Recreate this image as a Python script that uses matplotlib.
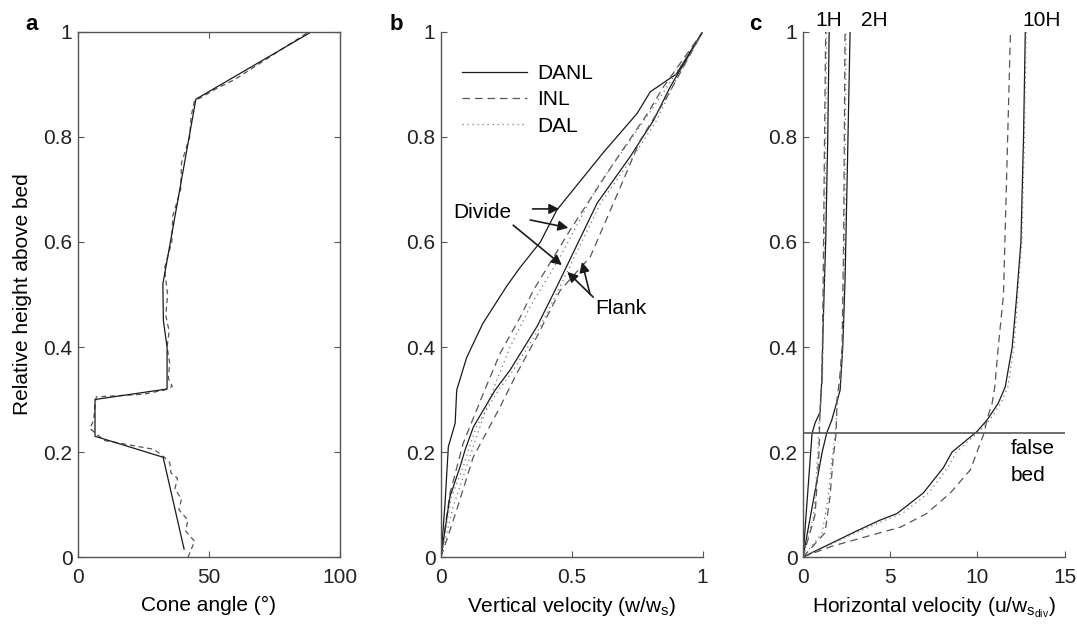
import numpy as np
import matplotlib.pyplot as plt

plt.rcParams['font.family'] = ['Liberation Sans', 'DejaVu Sans']
plt.rcParams['mathtext.fontset'] = 'custom'
plt.rcParams['mathtext.rm'] = 'Liberation Sans'
plt.rcParams['mathtext.it'] = 'Liberation Sans'

# ---- panel a: cone angle (deg) vs relative height
a_solid_x = [40.5, 32.5, 6.5, 6.5, 34, 34, 32.6, 32.4, 45, 89]
a_solid_y = [0.015, 0.19, 0.23, 0.30, 0.32, 0.40, 0.45, 0.52, 0.872, 1.0]
a_dash_x = [42, 44.5, 41, 42, 38.5, 39.5, 37, 38, 35.5, 35, 33, 29, 18, 10, 4.5, 5, 6,
            6.5, 7, 25, 33, 36, 34.5, 35, 34, 34.8, 33.5, 34.2, 33, 35.8, 36.2, 39.2,
            39.5, 42.6, 43.2, 44.5, 47, 52, 60, 88]
a_dash_y = [0.0, 0.03, 0.05, 0.07, 0.09, 0.11, 0.13, 0.15, 0.16, 0.18, 0.19, 0.205,
            0.215, 0.222, 0.245, 0.25, 0.26, 0.29, 0.305, 0.31, 0.318, 0.325, 0.34,
            0.37, 0.40, 0.43, 0.46, 0.5, 0.55, 0.6, 0.65, 0.7, 0.75, 0.8, 0.84, 0.87,
            0.875, 0.89, 0.91, 1.0]

# ---- panel b: vertical velocity (w/ws)
b_danl_div_x = [0, 0.015, 0.028, 0.054, 0.06, 0.098, 0.16, 0.25, 0.30, 0.38, 0.443, 0.62, 0.75, 0.80, 0.90, 1.0]
b_danl_div_y = [0, 0.1, 0.21, 0.255, 0.318, 0.38, 0.445, 0.515, 0.55, 0.6, 0.661, 0.77, 0.845, 0.886, 0.92, 1.0]
b_danl_fl_x = [0, 0.034, 0.073, 0.092, 0.124, 0.207, 0.264, 0.367, 0.443, 0.597, 0.724, 0.813, 0.877, 1.0]
b_danl_fl_y = [0, 0.115, 0.172, 0.204, 0.248, 0.318, 0.356, 0.439, 0.515, 0.674, 0.763, 0.832, 0.896, 1.0]
b_inl_div_x = [0, 0.034, 0.085, 0.162, 0.226, 0.303, 0.353, 0.494, 0.66, 0.79, 0.85, 1.0]
b_inl_div_y = [0, 0.121, 0.217, 0.312, 0.388, 0.457, 0.508, 0.623, 0.75, 0.845, 0.895, 1.0]
b_inl_fl_x = [0, 0.06, 0.123, 0.226, 0.29, 0.367, 0.456, 0.571, 0.686, 0.762, 0.865, 1.0]
b_inl_fl_y = [0, 0.09, 0.19, 0.286, 0.35, 0.42, 0.508, 0.572, 0.705, 0.794, 0.877, 1.0]
b_dal_div_x = [0, 0.046, 0.123, 0.188, 0.264, 0.341, 0.456, 0.597, 0.724, 0.84, 1.0]
b_dal_div_y = [0, 0.095, 0.21, 0.305, 0.40, 0.477, 0.572, 0.705, 0.794, 0.877, 1.0]
b_dal_fl_x = [0, 0.04, 0.085, 0.105, 0.135, 0.22, 0.277, 0.38, 0.455, 0.61, 0.735, 0.825, 0.885, 1.0]
b_dal_fl_y = [0, 0.115, 0.172, 0.204, 0.248, 0.318, 0.356, 0.439, 0.515, 0.674, 0.763, 0.832, 0.896, 1.0]

# ---- panel c: horizontal velocity (u/ws_div)
c1_solid_x = [0, 0.52, 0.7, 0.98, 1.08, 1.17, 1.3, 1.42, 1.5]
c1_solid_y = [0, 0.236, 0.256, 0.276, 0.34, 0.46, 0.6, 0.8, 1.0]
c1_dash_x = [0, 0.69, 0.92, 0.95, 1.0, 1.09, 1.15, 1.22, 1.3]
c1_dash_y = [0, 0.08, 0.2, 0.25, 0.29, 0.34, 0.5, 0.75, 1.0]
c1_dot_x = [0, 0.62, 0.85, 0.9, 1.0, 1.12, 1.2, 1.28, 1.36]
c1_dot_y = [0, 0.08, 0.2, 0.25, 0.29, 0.34, 0.5, 0.75, 1.0]
c2_solid_x = [0, 1.1, 1.36, 1.65, 2.13, 2.28, 2.41, 2.55, 2.7]
c2_solid_y = [0, 0.2, 0.236, 0.261, 0.318, 0.4, 0.527, 0.75, 1.0]
c2_dash_x = [0, 1.26, 1.55, 1.72, 1.9, 1.95, 2.1, 2.24, 2.33, 2.41]
c2_dash_y = [0, 0.046, 0.115, 0.185, 0.236, 0.3, 0.34, 0.4, 0.6, 1.0]
c2_dot_x = [0, 1.1, 1.45, 1.65, 1.85, 2.0, 2.15, 2.28, 2.38, 2.47]
c2_dot_y = [0, 0.046, 0.115, 0.185, 0.236, 0.3, 0.34, 0.4, 0.6, 1.0]
c10_solid_x = [0, 3.1, 4.4, 5.4, 6.9, 8.05, 8.55, 9.98, 10.56, 11.2, 11.6, 12.0, 12.24, 12.5, 12.65, 12.75]
c10_solid_y = [0, 0.05, 0.07, 0.083, 0.122, 0.17, 0.2, 0.239, 0.261, 0.293, 0.324, 0.4, 0.49, 0.6, 0.8, 1.0]
c10_dash_x = [0, 1.6, 4.4, 5.6, 7.1, 8.45, 9.6, 10.17, 10.4, 10.56, 10.85, 11.0, 11.2, 11.5, 11.7, 11.9]
c10_dash_y = [0, 0.02, 0.046, 0.057, 0.083, 0.122, 0.166, 0.217, 0.237, 0.263, 0.293, 0.324, 0.4, 0.5, 0.75, 1.0]
c10_dot_x = [0, 3.3, 4.7, 5.7, 7.2, 8.3, 8.8, 10.1, 10.7, 11.35, 11.75, 12.1, 12.3, 12.55, 12.7, 12.8]
c10_dot_y = [0, 0.05, 0.07, 0.083, 0.122, 0.17, 0.2, 0.239, 0.261, 0.293, 0.324, 0.4, 0.49, 0.6, 0.8, 1.0]
false_bed = 0.236

ink = '#1a1a1a'
grey = '#555555'
fs = 15
fig = plt.figure(figsize=(10.77, 6.26), dpi=100)
bot, hgt, wid = 0.1102, 0.8387, 0.2428
ax_a = fig.add_axes([0.0724, bot, 0.2433, hgt])
ax_b = fig.add_axes([0.4095, bot, wid, hgt])
ax_c = fig.add_axes([0.7456, bot, wid, hgt])

for ax in (ax_a, ax_b, ax_c):
    ax.set_ylim(0, 1)
    ax.set_yticks([0, 0.2, 0.4, 0.6, 0.8, 1])
    ax.set_yticklabels(['0', '0.2', '0.4', '0.6', '0.8', '1'])
    ax.tick_params(direction='in', length=4, labelsize=fs, colors=grey, labelcolor='#222222', pad=4)
    ax.tick_params(axis='x', pad=8)
    for s in ax.spines.values():
        s.set_color(grey)
        s.set_linewidth(1.0)

# a
ax_a.plot(a_dash_x, a_dash_y, color=grey, lw=0.9, ls=(0, (4, 3)))
ax_a.plot(a_solid_x, a_solid_y, color=ink, lw=0.9)
ax_a.set_xlim(0, 100)
ax_a.set_xticks([0, 50, 100])
ax_a.tick_params(top=True, right=True)
ax_a.set_xlabel('Cone angle (°)', fontsize=fs, labelpad=6)
ax_a.set_ylabel('Relative height above bed', fontsize=fs, labelpad=8)

# b
ax_b.plot(b_danl_div_x, b_danl_div_y, color=ink, lw=0.9, label='DANL')
ax_b.plot(b_inl_div_x, b_inl_div_y, color=grey, lw=0.9, ls=(0, (6, 4)), label='INL')
ax_b.plot(b_dal_div_x, b_dal_div_y, color='#777777', lw=0.9, ls=(0, (1, 3)), label='DAL')
ax_b.plot(b_danl_fl_x, b_danl_fl_y, color=ink, lw=0.9)
ax_b.plot(b_inl_fl_x, b_inl_fl_y, color=grey, lw=0.9, ls=(0, (6, 4)))
ax_b.plot(b_dal_fl_x, b_dal_fl_y, color='#777777', lw=0.9, ls=(0, (1, 3)))
ax_b.set_xlim(0, 1)
ax_b.set_xticks([0, 0.5, 1])
ax_b.set_xticklabels(['0', '0.5', '1'])
ax_b.legend(loc='upper left', bbox_to_anchor=(0.05, 0.955), frameon=False, fontsize=fs,
            handlelength=3.1, handletextpad=0.5, labelspacing=0.35, borderaxespad=0)
ax_b.set_xlabel('Vertical velocity (w/w$_\\mathregular{s}$)', fontsize=fs, labelpad=6)
arr = dict(arrowstyle='-|>', color=ink, lw=1.2, mutation_scale=15, shrinkA=0, shrinkB=0)
ax_b.text(0.158, 0.657, 'Divide', fontsize=fs, ha='center', va='center')
ax_b.annotate('', xy=(0.452, 0.663), xytext=(0.35, 0.663), arrowprops=arr)
ax_b.annotate('', xy=(0.487, 0.627), xytext=(0.341, 0.642), arrowprops=arr)
ax_b.annotate('', xy=(0.462, 0.556), xytext=(0.276, 0.632), arrowprops=arr)
ax_b.text(0.59, 0.474, 'Flank', fontsize=fs, ha='left', va='center')
ax_b.annotate('', xy=(0.483, 0.543), xytext=(0.582, 0.495), arrowprops=arr)
ax_b.annotate('', xy=(0.539, 0.562), xytext=(0.57, 0.50), arrowprops=arr)

# c
for xs, ys in [(c1_solid_x, c1_solid_y), (c2_solid_x, c2_solid_y), (c10_solid_x, c10_solid_y)]:
    ax_c.plot(xs, ys, color=ink, lw=0.9)
for xs, ys in [(c1_dash_x, c1_dash_y), (c2_dash_x, c2_dash_y), (c10_dash_x, c10_dash_y)]:
    ax_c.plot(xs, ys, color=grey, lw=0.9, ls=(0, (6, 4)))
for xs, ys in [(c1_dot_x, c1_dot_y), (c2_dot_x, c2_dot_y), (c10_dot_x, c10_dot_y)]:
    ax_c.plot(xs, ys, color='#777777', lw=0.9, ls=(0, (1, 3)))
ax_c.axhline(false_bed, color=grey, lw=1.2)
ax_c.set_xlim(0, 15)
ax_c.set_xticks([0, 5, 10, 15])
ax_c.text(11.9, 0.207, 'false', fontsize=fs, ha='left', va='center')
ax_c.text(11.9, 0.155, 'bed', fontsize=fs, ha='left', va='center')
for lab, xv in [('1H', 1.5), ('2H', 4.1), ('10H', 13.7)]:
    ax_c.text(xv, 1.003, lab, fontsize=fs, ha='center', va='bottom', clip_on=False)
ax_c.set_xlabel('Horizontal velocity (u/w$_\\mathregular{s_{div}}$)', fontsize=fs, labelpad=6)

for ax in (ax_b, ax_c):
    ax.spines['top'].set_visible(False)
    ax.spines['right'].set_visible(False)

fig.text(32 / 1077, 1 - 25 / 626, 'a', fontsize=16, fontweight='bold', ha='center', va='center')
fig.text(396 / 1077, 1 - 25 / 626, 'b', fontsize=16, fontweight='bold', ha='center', va='center')
fig.text(755 / 1077, 1 - 25 / 626, 'c', fontsize=16, fontweight='bold', ha='center', va='center')

fig.savefig('out.png', dpi=100)
